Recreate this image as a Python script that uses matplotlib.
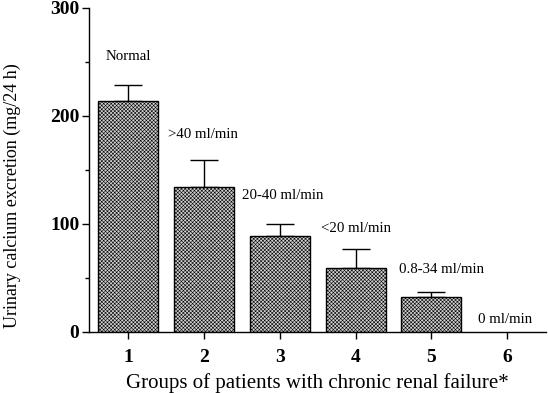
import matplotlib
matplotlib.use("Agg")
import matplotlib.pyplot as plt
import numpy as np

groups = [1, 2, 3, 4, 5, 6]
values = [214, 134, 89, 59, 32.5, 0]
err_upper = [15, 25, 11, 18, 4.5, 0]
labels = ["Normal", ">40 ml/min", "20-40 ml/min", "<20 ml/min", "0.8-34 ml/min", "0 ml/min"]
label_x = [1.0, 1.53, 2.51, 3.54, 4.57, 5.62]
label_y = [255, 183, 126, 96, 58, 12]

plt.rcParams['font.family'] = ['Liberation Serif', 'DejaVu Serif']
plt.rcParams['hatch.linewidth'] = 0.4
plt.rcParams['hatch.color'] = '#505050'

fig = plt.figure(figsize=(5.48, 3.93), dpi=100)
ax = fig.add_axes([89/548, 61/393, 457/548, 324/393])

lws = [1.0 if v > 0 else 0 for v in values]
ax.bar(groups, values, width=0.79, facecolor='#d0d0d0', edgecolor='black',
       linewidth=lws, hatch='xxxxxxxxx', zorder=2)
ax.errorbar(groups[:5], values[:5], yerr=[[0]*5, err_upper[:5]], fmt='none',
            ecolor='black', elinewidth=1.0, capsize=10, capthick=1.0, zorder=1)

for i, t in enumerate(labels):
    ha = 'center' if i == 0 else 'left'
    ax.text(label_x[i], label_y[i], t, ha=ha, va='center', fontsize=10.7)

ax.set_xlim(0.487, 6.51)
ax.set_ylim(0, 300)
ax.set_xticks(groups)
ax.set_xticklabels([str(g) for g in groups], fontsize=14, fontweight='bold')
ax.set_yticks([0, 100, 200, 300])
ax.set_yticklabels(['0', '100', '200', '300'], fontsize=14, fontweight='bold')
ax.set_yticks([50, 150, 250], minor=True)
ax.tick_params(axis='both', which='major', length=5, width=1, direction='out')
ax.tick_params(axis='y', which='minor', length=3, width=1)
ax.tick_params(axis='x', pad=7)
ax.tick_params(axis='y', pad=2)
ax.spines['top'].set_visible(False)
ax.spines['right'].set_visible(False)
ax.spines['left'].set_linewidth(1)
ax.spines['bottom'].set_linewidth(1)

ax.set_ylabel("Urinary calcium excretion (mg/24 h)", fontsize=13)
ax.yaxis.set_label_coords(-0.148, 0.42)
ax.set_xlabel("Groups of patients with chronic renal failure*", fontsize=15, labelpad=5)

fig.savefig("out.png", dpi=100)
